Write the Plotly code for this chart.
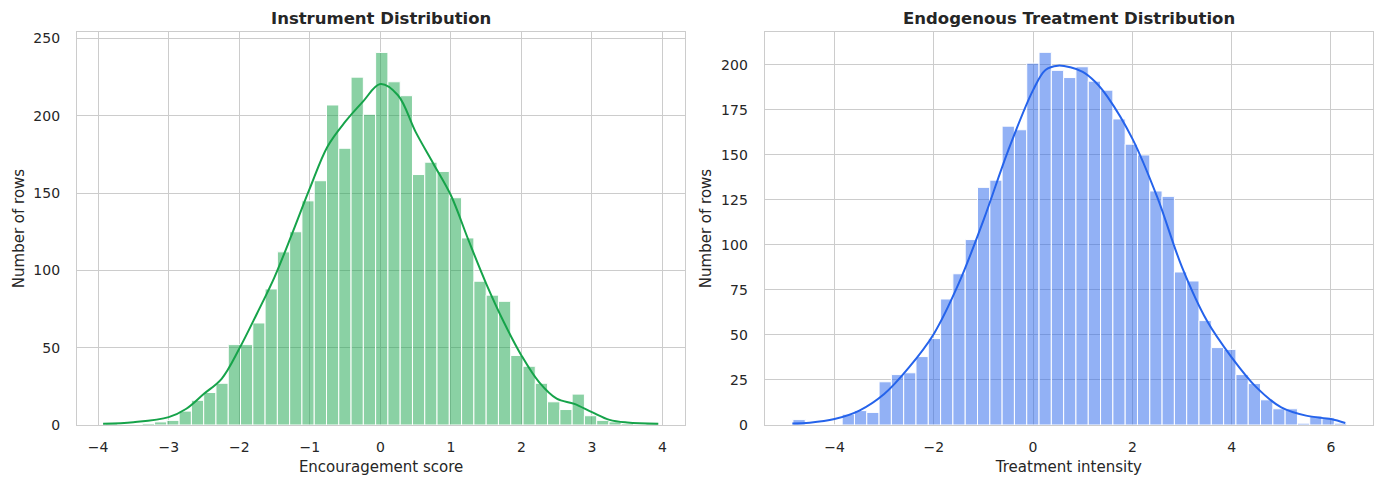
import numpy as np
import plotly.graph_objects as go

# --- instrument (left panel) ---
inst_start = -3.897
inst_width = 0.1741
inst_counts = [1, 0, 0, 1, 2, 3, 9, 16, 21, 27, 52, 52, 66, 88, 112, 125, 145, 158,
               207, 179, 225, 201, 241, 222, 213, 162, 170, 164, 147, 121, 93, 84, 80,
               45, 38, 27, 15, 10, 20, 6, 3, 2, 1, 0, 1]
inst_kde_x = [-3.93, -3.5, -3.0, -2.75, -2.5, -2.25, -2.0, -1.75, -1.5, -1.25, -1.0,
              -0.75, -0.5, -0.25, 0.0, 0.25, 0.5, 0.75, 1.0, 1.25, 1.5, 1.75, 2.0,
              2.25, 2.5, 2.75, 3.0, 3.25, 3.5, 3.94]
inst_kde_y = [0.8, 1.8, 5.1, 10.5, 20.2, 29.9, 49.3, 72, 95.7, 123.8, 153, 180, 196,
              209, 220.5, 213.3, 189.6, 169.2, 148.6, 119.5, 91.5, 66.6, 45, 27.7, 17,
              13.7, 8.3, 3.3, 1.6, 0.8]

# --- endogenous treatment (right panel) ---
treat_start = -4.838
treat_width = 0.2479
treat_counts = [3, 0, 0, 0, 6, 8, 7, 24, 28, 29, 38, 48, 70, 84, 103, 132, 136, 166,
                164, 201, 207, 197, 193, 199, 191, 186, 170, 156, 150, 130, 127, 85, 80,
                58, 43, 42, 28, 23, 14, 9, 9, 1, 5, 4, 1]
treat_kde_x = [-4.85, -4.5, -4.0, -3.5, -3.0, -2.5, -2.0, -1.5, -1.0, -0.5, 0.0, 0.25,
               0.5, 0.75, 1.0, 1.25, 1.5, 2.0, 2.5, 3.0, 3.5, 4.0, 4.5, 5.0, 5.5, 6.0,
               6.29]
treat_kde_y = [0.9, 1.3, 3.3, 8, 17.2, 32, 50.6, 78.5, 113.7, 152.6, 186, 197.2, 199.6,
               198.7, 196.2, 190.7, 182.3, 159.1, 126.7, 87.7, 58, 37.6, 20.9, 9.8, 5.2,
               3.3, 1.1]

GREEN = '#16a34a'
BLUE = '#2563eb'
TXT = '#262626'
GRID = '#cccccc'
FONT = 'DejaVu Sans'

def centers(start, width, n):
    return start + width * (np.arange(n) + 0.5)

fig = go.Figure()
fig.add_trace(go.Bar(x=centers(inst_start, inst_width, len(inst_counts)), y=inst_counts,
                     width=inst_width, marker_color='rgba(22,163,74,0.5)',
                     marker_line_color='white', marker_line_width=1,
                     xaxis='x', yaxis='y', showlegend=False))
fig.add_trace(go.Scatter(x=inst_kde_x, y=inst_kde_y, mode='lines',
                         line=dict(color=GREEN, width=2, shape='spline', smoothing=1),
                         xaxis='x', yaxis='y', showlegend=False))
fig.add_trace(go.Bar(x=centers(treat_start, treat_width, len(treat_counts)), y=treat_counts,
                     width=treat_width, marker_color='rgba(37,99,235,0.5)',
                     marker_line_color='white', marker_line_width=1,
                     xaxis='x2', yaxis='y2', showlegend=False))
fig.add_trace(go.Scatter(x=treat_kde_x, y=treat_kde_y, mode='lines',
                         line=dict(color=BLUE, width=2, shape='spline', smoothing=1),
                         xaxis='x2', yaxis='y2', showlegend=False))

# no visible tick marks, the transparent ticks only push the labels off the frame
ax = dict(showgrid=True, gridcolor=GRID, gridwidth=1, zeroline=False, showline=True,
          linecolor=GRID, linewidth=1.3, mirror=True, ticks='outside',
          tickcolor='rgba(0,0,0,0)',
          tickfont=dict(family=FONT, size=14, color=TXT),
          title_font=dict(family=FONT, size=15, color=TXT))
xax = dict(ax, ticklen=9, title_standoff=7)
yax = dict(ax, ticklen=13, title_standoff=5)

dom_l = [0.0, 0.4692]
dom_r = [0.5307, 1.0]

# page body has an 8px margin, so the figure is 8px smaller than the window
fig.update_layout(
    width=1376, height=476,
    margin=dict(l=64.7, r=10, t=24, b=59),
    paper_bgcolor='white', plot_bgcolor='white',
    font=dict(family=FONT, color=TXT),
    barmode='overlay',
    xaxis=dict(xax, domain=dom_l, range=[-4.30, 4.32], dtick=1, title_text='Encouragement score'),
    yaxis=dict(yax, anchor='x', range=[0, 254.2], dtick=50, title_text='Number of rows'),
    xaxis2=dict(xax, domain=dom_r, range=[-5.405, 6.848], dtick=2, title_text='Treatment intensity', anchor='y2'),
    yaxis2=dict(yax, anchor='x2', range=[0, 218.3], dtick=25, title_text='Number of rows'),
    annotations=[
        dict(text='<b>Instrument Distribution</b>', x=sum(dom_l) / 2, y=1, xref='paper', yref='paper',
             xanchor='center', yanchor='bottom', yshift=1.5, showarrow=False,
             font=dict(family=FONT, size=16.5, color=TXT)),
        dict(text='<b>Endogenous Treatment Distribution</b>', x=sum(dom_r) / 2, y=1, xref='paper',
             yref='paper', xanchor='center', yanchor='bottom', yshift=1.5, showarrow=False,
             font=dict(family=FONT, size=16.5, color=TXT)),
    ],
)

fig.write_html("out.html")
